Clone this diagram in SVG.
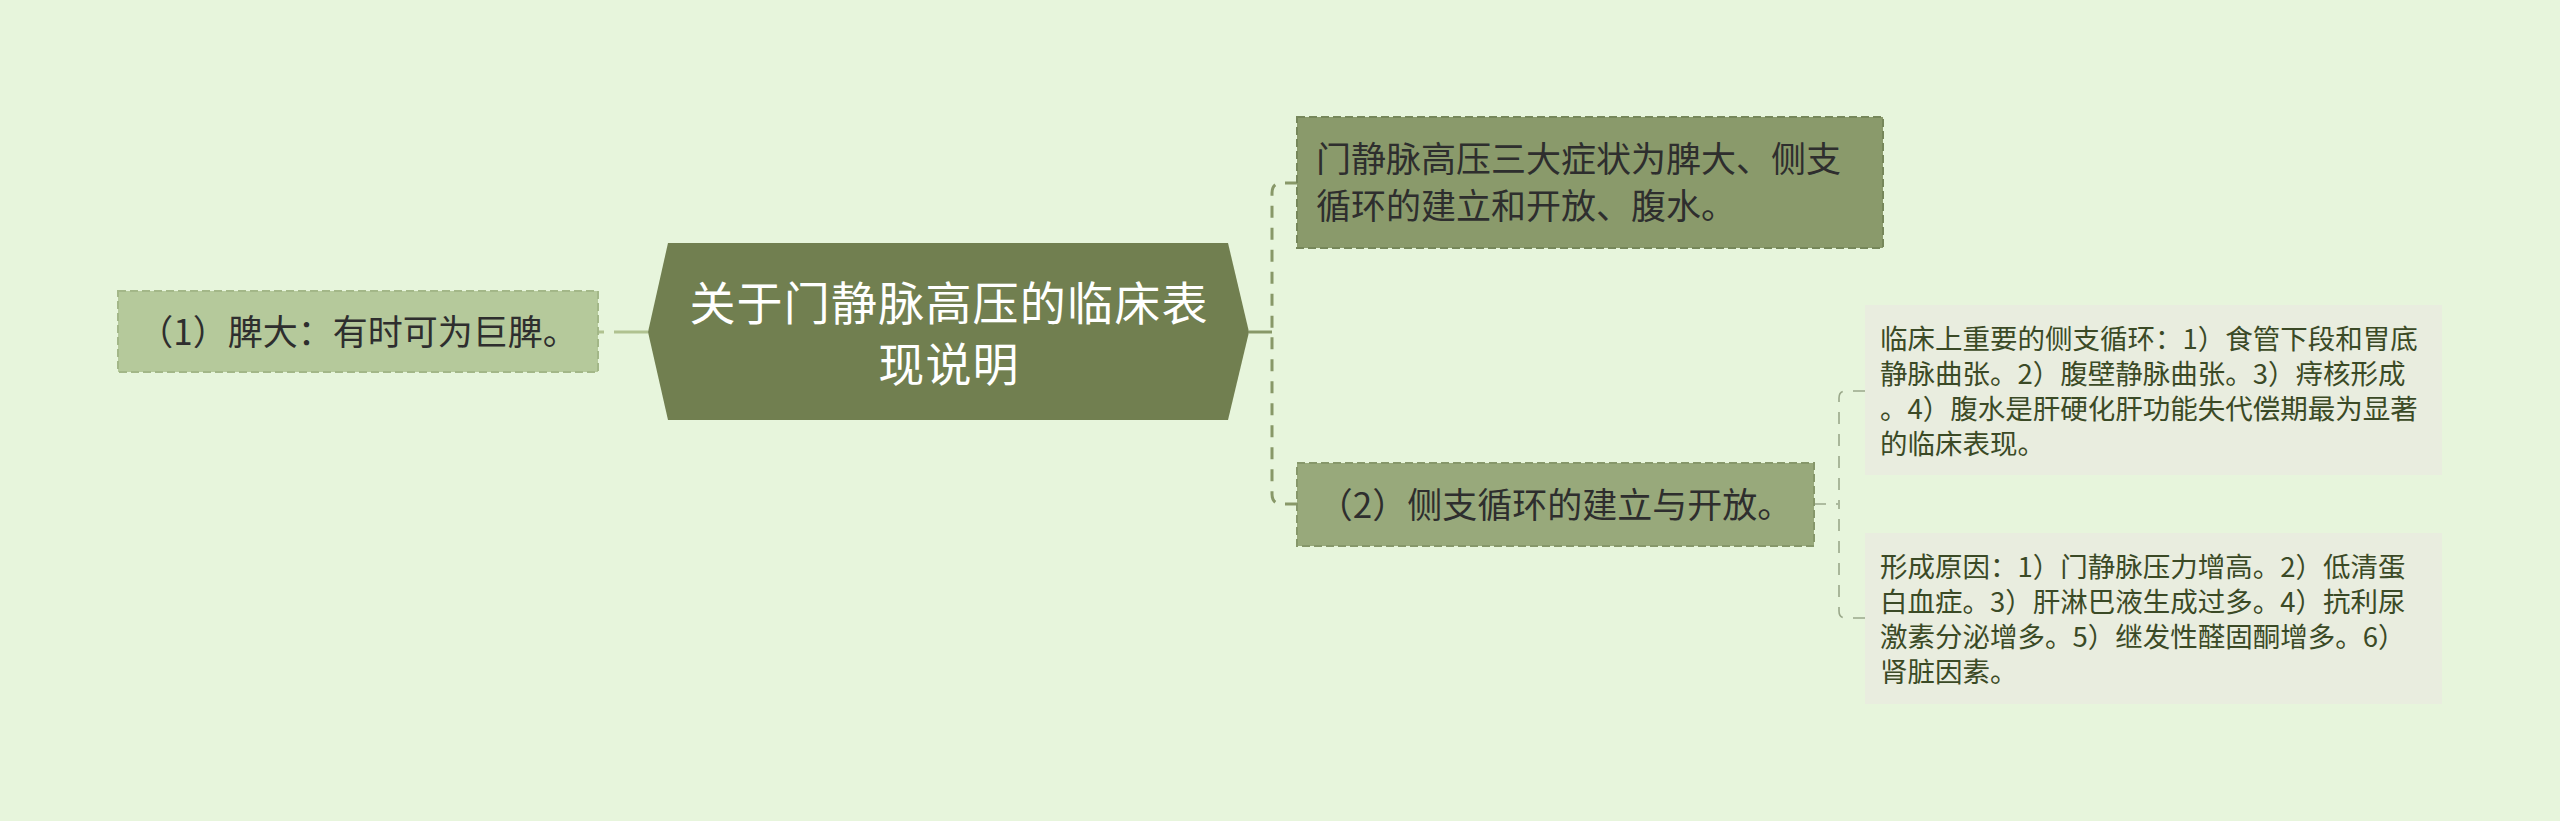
<svg xmlns="http://www.w3.org/2000/svg" width="2560" height="821" viewBox="0 0 2560 821">
<style>
text { font-family: "Noto Sans CJK SC", "Noto Sans", sans-serif; }
.l1 { font-size: 35px; fill: #2e2e2e; }
.leaf { font-size: 27.5px; fill: #3b4a26; }
.root { font-size: 46px; letter-spacing: 1.2px; fill: #ffffff; }
.c1 { fill: none; stroke: #889868; stroke-width: 3; stroke-dasharray: 12 10; }
.c2 { fill: none; stroke: #9aa88a; stroke-width: 1.6; stroke-dasharray: 12 10; }
</style>
<rect x="0" y="0" width="2560" height="821" fill="#e7f5dc"/>
<g id="connectors">
  <path d="M598,332 H648" fill="none" stroke="#b0c290" stroke-width="3" stroke-dasharray="6 10 40"/>
  <path d="M1249,332 H1272" fill="none" stroke="#889868" stroke-width="3"/>
  <path class="c1" d="M1297,183 H1282 Q1272,183 1272,193 V332"/>
  <path class="c1" d="M1297,504 H1282 Q1272,504 1272,494 V332"/>
  <path d="M1814,504 H1838" class="c2"/>
  <path class="c2" d="M1865,391 H1846 Q1839,391 1839,398 V504"/>
  <path class="c2" d="M1865,618 H1846 Q1839,618 1839,611 V504"/>
</g>
<g id="root">
  <polygon points="648,332 668,243 1228,243 1249,332 1228,420 668,420" fill="#717f50"/>
  <text class="root" x="949" y="320" text-anchor="middle">关于门静脉高压的临床表</text>
  <text class="root" x="949" y="381" text-anchor="middle">现说明</text>
</g>
<g id="node-left">
  <rect x="118" y="291" width="480" height="81" fill="#b5c99b" stroke="#a3b788" stroke-width="2" stroke-dasharray="8 4"/>
  <text class="l1" x="358" y="345" text-anchor="middle">（1）脾大：有时可为巨脾。</text>
</g>
<g id="node-1">
  <rect x="1297" y="117" width="586" height="131" fill="#8a9a6b" stroke="#76875a" stroke-width="2" stroke-dasharray="8 4"/>
  <text class="l1" x="1316" y="172">门静脉高压三大症状为脾大、侧支</text>
  <text class="l1" x="1316" y="219">循环的建立和开放、腹水。</text>
</g>
<g id="node-2">
  <rect x="1297" y="463" width="517" height="83" fill="#98a97b" stroke="#86976a" stroke-width="2" stroke-dasharray="8 4"/>
  <text class="l1" x="1555" y="518" text-anchor="middle">（2）侧支循环的建立与开放。</text>
</g>
<g id="leaf-1">
  <rect x="1865" y="305" width="577" height="170" fill="#e9eddf"/>
  <text class="leaf" x="1880" y="349">临床上重要的侧支循环：1）食管下段和胃底</text>
  <text class="leaf" x="1880" y="384">静脉曲张。2）腹壁静脉曲张。3）痔核形成</text>
  <text class="leaf" x="1880" y="419">。4）腹水是肝硬化肝功能失代偿期最为显著</text>
  <text class="leaf" x="1880" y="454">的临床表现。</text>
</g>
<g id="leaf-2">
  <rect x="1865" y="533" width="577" height="171" fill="#e9eddf"/>
  <text class="leaf" x="1880" y="577">形成原因：1）门静脉压力增高。2）低清蛋</text>
  <text class="leaf" x="1880" y="612">白血症。3）肝淋巴液生成过多。4）抗利尿</text>
  <text class="leaf" x="1880" y="647">激素分泌增多。5）继发性醛固酮增多。6）</text>
  <text class="leaf" x="1880" y="682">肾脏因素。</text>
</g>
</svg>
